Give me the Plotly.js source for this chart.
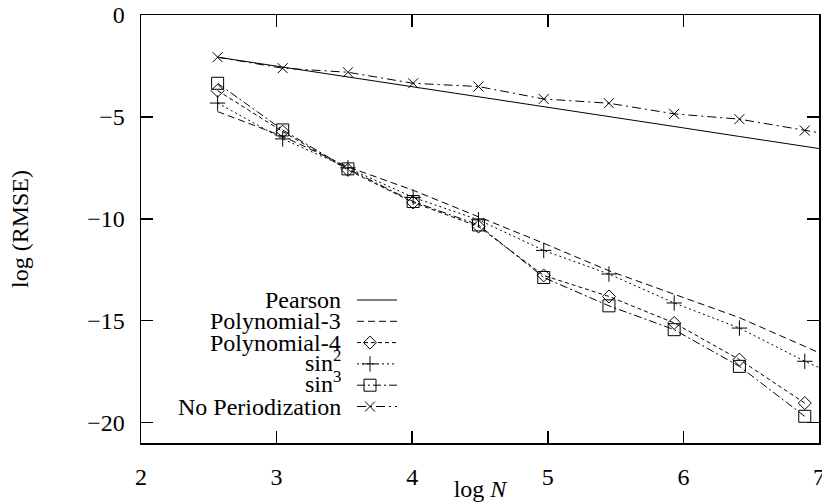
<!DOCTYPE html>
<html>
<head>
<meta charset="utf-8">
<script src="https://cdn.plot.ly/plotly-3.0.1.min.js"></script>
<style>html,body{margin:0;padding:0;background:#fff;}#chart{width:822px;height:502px;}</style>
</head>
<body>
<div id="chart"></div>
<script>
// log N values (same sample sizes for all series)
const logN = [2.565, 3.045, 3.526, 4.007, 4.489, 4.970, 5.451, 5.932, 6.413, 6.895];
const logNExt = [2.565, 3.045, 3.526, 4.007, 4.489, 4.970, 5.451, 5.932, 6.413, 6.895, 7.376];

// log(RMSE) per method
const pearson = [-2.07, -2.55, -3.04, -3.52, -4.01, -4.50, -4.98, -5.47, -5.96, -6.44, -6.93];
const poly3 = [-4.74, -5.95, -7.45, -8.60, -9.90, -11.20, -12.55, -13.70, -14.85, -16.26, -17.70];
const poly4 = [-3.71, -5.72, -7.60, -9.20, -10.38, -12.78, -13.81, -15.11, -16.91, -19.04];
const sin2 = [-4.32, -6.08, -7.50, -8.95, -10.05, -11.55, -12.71, -14.13, -15.36, -16.99, -18.40];
const sin3 = [-3.35, -5.64, -7.55, -9.15, -10.30, -12.88, -14.27, -15.44, -17.24, -19.69];
const noPeriod = [-2.07, -2.61, -2.81, -3.35, -3.51, -4.12, -4.33, -4.85, -5.11, -5.67, -6.20];

const seriesNames = ["Pearson", "Polynomial-3", "Polynomial-4", "sin<sup>2</sup>", "sin<sup>3</sup>", "No Periodization"];
const xTickVals = [2, 3, 4, 5, 6, 7];
const yTickVals = [0, -5, -10, -15, -20];

const FONT = "Liberation Serif, Times New Roman, serif";
const BLACK = "#000";
const FS = 24;

const styles = [
  {x: logNExt, y: pearson, dash: "solid", symbol: null},
  {x: logNExt, y: poly3, dash: "7px,4px", symbol: null},
  {x: logN, y: poly4, dash: "4px,3px", symbol: "diamond-open", size: 10},
  {x: logNExt, y: sin2, dash: "2px,3px", symbol: "cross-thin", size: 11},
  {x: logN, y: sin3, dash: "8px,3px,2px,3px", symbol: "square-open", size: 12},
  {x: logNExt, y: noPeriod, dash: "9px,4px,2px,4px", symbol: "x-thin", size: 10}
];

const traces = styles.map((s, i) => {
  const t = {
    x: s.x, y: s.y, type: "scatter",
    mode: s.symbol ? "lines+markers" : "lines",
    name: seriesNames[i], showlegend: false, cliponaxis: true,
    line: {color: BLACK, width: 1, dash: s.dash}
  };
  if (s.symbol) {
    t.marker = {symbol: s.symbol, size: s.size, color: BLACK, line: {color: BLACK, width: 1}};
  }
  return t;
});

// custom gnuplot-style key: text right-aligned, sample on the right
const W = 678, H = 428, L = 141, T = 15;
const px2x = p => (p - L) / W;
const px2y = p => (T + H - p) / H;
const rowY = [300, 321.3, 342.6, 363.9, 385.2, 406.5];
const textRight = 343, sampleL = 357, sampleR = 397, markX = 370;

const annotations = [];
const shapes = [];
styles.forEach((s, i) => {
  const isSup = (i === 3 || i === 4);
  annotations.push({
    xref: "paper", yref: "paper", x: px2x(textRight), y: px2y(rowY[i] + (isSup ? -3 : 0)),
    xanchor: "right", yanchor: "middle", showarrow: false, text: seriesNames[i],
    font: {family: FONT, size: FS, color: BLACK}
  });
  shapes.push({
    type: "line", xref: "paper", yref: "paper",
    x0: px2x(sampleL), x1: px2x(sampleR), y0: px2y(rowY[i]), y1: px2y(rowY[i]),
    line: {color: BLACK, width: 1, dash: s.dash}
  });
  if (s.symbol) {
    traces.push({
      x: [px2x(markX)], y: [px2y(rowY[i])], xaxis: "x2", yaxis: "y2",
      type: "scatter", mode: "markers", showlegend: false, hoverinfo: "skip",
      marker: {symbol: s.symbol, size: s.size, color: BLACK, line: {color: BLACK, width: 1}}
    });
  }
});

const axisCommon = {
  showline: true, linecolor: BLACK, linewidth: 1.5, mirror: "ticks",
  ticks: "inside", ticklen: 12, tickwidth: 1.5, tickcolor: BLACK,
  showgrid: false, zeroline: false, automargin: false,
  ticklabeloverflow: "allow",
  tickfont: {family: FONT, size: FS, color: BLACK}
};

const layout = {
  width: 822, height: 502,
  margin: {l: 141, r: 3, t: 15, b: 59},
  paper_bgcolor: "#fff", plot_bgcolor: "#fff",
  showlegend: false,
  xaxis: Object.assign({}, axisCommon, {
    range: [2, 7], tickvals: xTickVals, ticklabelstandoff: 12,
    title: {text: "log <i>N</i>", font: {family: FONT, size: FS, color: BLACK}, standoff: 0}
  }),
  yaxis: Object.assign({}, axisCommon, {
    range: [-21, 0], tickvals: yTickVals, ticklabelstandoff: 10,
    title: {text: "log (RMSE)", font: {family: FONT, size: FS, color: BLACK}, standoff: 52}
  }),
  xaxis2: {overlaying: "x", range: [0, 1], visible: false, fixedrange: true},
  yaxis2: {overlaying: "y", range: [0, 1], visible: false, fixedrange: true},
  annotations: annotations,
  shapes: shapes
};

Plotly.newPlot("chart", traces, layout, {staticPlot: true, displayModeBar: false});
</script>
</body>
</html>
